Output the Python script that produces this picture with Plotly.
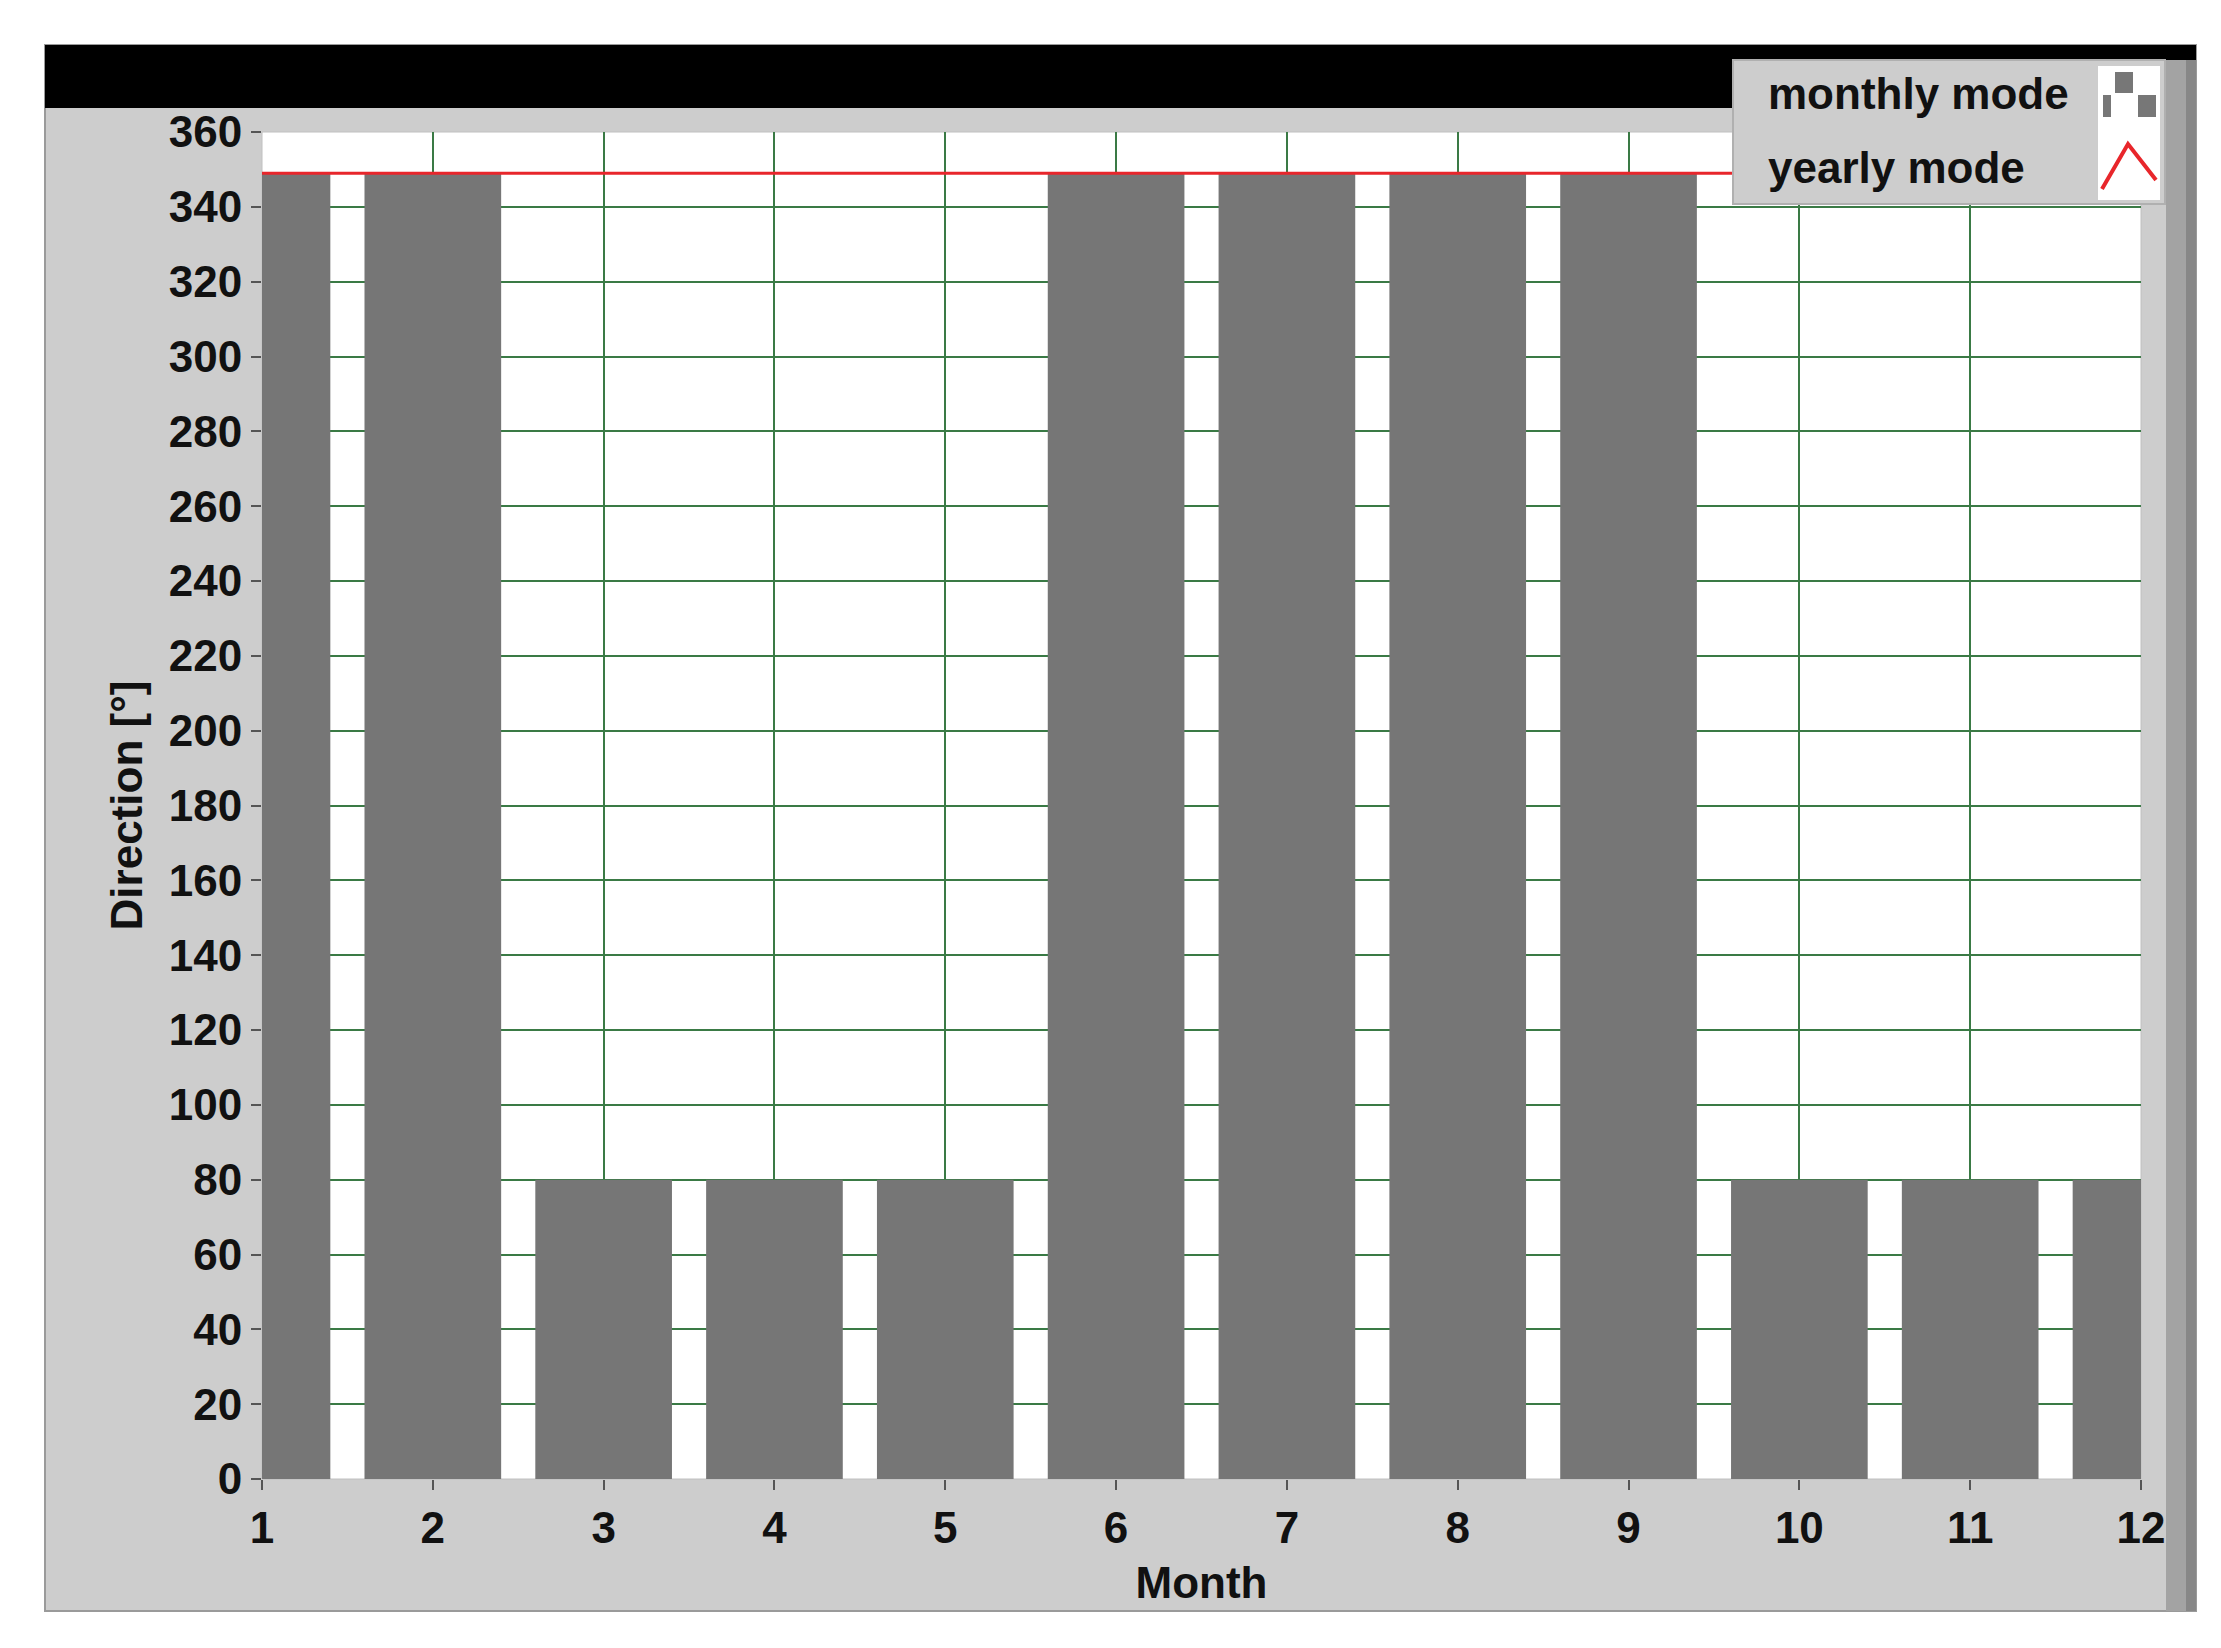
import plotly.graph_objects as go

# data
months = [1, 2, 3, 4, 5, 6, 7, 8, 9, 10, 11, 12]
monthly_mode = [349, 349, 80, 80, 80, 349, 349, 349, 349, 80, 80, 80]
yearly_mode = [349] * len(months)

# the page body adds an 8px margin, so pixel positions are shifted by it
OFF = 8
W, H = 2221 - 2 * OFF, 1648 - 2 * OFF
L, R, T, B = 262 - OFF, 2141 - OFF, 132 - OFF, 1479 - OFF


def px(x):
    return (x - OFF - L) / (R - L)


def py(y):
    return (B - (y - OFF)) / (B - T)


FONT = "Liberation Sans"
TXT = dict(family=FONT, size=44, color="#111111", weight="bold")

fig = go.Figure()

fig.add_trace(go.Bar(
    x=months, y=monthly_mode, width=0.8,
    marker=dict(color="#767676", line=dict(width=0)),
    name="monthly mode", showlegend=False,
))

fig.add_trace(go.Scatter(
    x=months, y=yearly_mode, mode="lines",
    line=dict(color="#e8262b", width=3),
    name="yearly mode", showlegend=False,
))

shapes = [
    # grey panel and white plot area
    dict(type="rect", xref="paper", yref="paper", layer="below",
         x0=px(45), x1=px(2196), y0=py(1611), y1=py(45),
         fillcolor="#cdcdcd", line=dict(color="#9a9a9a", width=2)),
    dict(type="rect", xref="paper", yref="paper", layer="below",
         x0=0, x1=1, y0=0, y1=1,
         fillcolor="white", line=dict(color="#c0c0c0", width=1)),
    # black bar at the top
    dict(type="rect", xref="paper", yref="paper", layer="below",
         x0=px(45), x1=px(2196), y0=py(108), y1=py(45),
         fillcolor="black", line=dict(width=0)),
    # scroll strip at the right
    dict(type="rect", xref="paper", yref="paper", layer="below",
         x0=px(2166), x1=px(2196), y0=py(1611), y1=py(60),
         fillcolor="#a3a3a3", line=dict(width=0)),
    dict(type="rect", xref="paper", yref="paper", layer="below",
         x0=px(2186), x1=px(2196), y0=py(1611), y1=py(60),
         fillcolor="#878787", line=dict(width=0)),
    # legend box
    dict(type="rect", xref="paper", yref="paper", layer="above",
         x0=px(1733), x1=px(2165), y0=py(204), y1=py(60),
         fillcolor="#cdcdcd", line=dict(color="#b0b0b0", width=2)),
    dict(type="rect", xref="paper", yref="paper", layer="above",
         x0=px(2098), x1=px(2160), y0=py(200), y1=py(66),
         fillcolor="white", line=dict(width=0)),
    # bar icon
    dict(type="rect", xref="paper", yref="paper", layer="above",
         x0=px(2115), x1=px(2133), y0=py(93), y1=py(72),
         fillcolor="#777777", line=dict(width=0)),
    dict(type="rect", xref="paper", yref="paper", layer="above",
         x0=px(2103), x1=px(2111), y0=py(117), y1=py(95),
         fillcolor="#777777", line=dict(width=0)),
    dict(type="rect", xref="paper", yref="paper", layer="above",
         x0=px(2138), x1=px(2156), y0=py(117), y1=py(95),
         fillcolor="#777777", line=dict(width=0)),
    # line icon
    dict(type="path", xref="paper", yref="paper", layer="above",
         path=f"M {px(2102)} {py(189)} L {px(2128)} {py(144)} L {px(2156)} {py(180)}",
         line=dict(color="#e8262b", width=4)),
]

annotations = [
    dict(text="monthly mode", xref="paper", yref="paper",
         x=px(1766), y=py(94), xanchor="left", yanchor="middle",
         showarrow=False, font=TXT),
    dict(text="yearly mode", xref="paper", yref="paper",
         x=px(1766), y=py(168), xanchor="left", yanchor="middle",
         showarrow=False, font=TXT),
]

fig.update_layout(
    width=W, height=H,
    margin=dict(l=L, r=W - R, t=T, b=H - B),
    paper_bgcolor="white",
    plot_bgcolor="white",
    shapes=shapes,
    annotations=annotations,
    font=dict(family=FONT, size=44, color="#111111"),
)

fig.update_xaxes(
    range=[1, 12], tickmode="linear", tick0=1, dtick=1,
    showgrid=True, gridcolor="#3a7a45", gridwidth=2,
    zeroline=False, showline=False,
    ticks="outside", ticklen=10, tickwidth=2, tickcolor="#555555",
    tickfont=TXT,
    title=dict(text="Month", standoff=16, font=TXT),
)

fig.update_yaxes(
    range=[0, 360], tickmode="linear", tick0=0, dtick=20,
    showgrid=True, gridcolor="#3a7a45", gridwidth=2,
    zeroline=False, showline=False,
    ticks="outside", ticklen=10, tickwidth=2, tickcolor="#555555",
    tickfont=TXT,
    title=dict(text="Direction [°]", standoff=12, font=TXT),
)

fig.write_html("out.html")
